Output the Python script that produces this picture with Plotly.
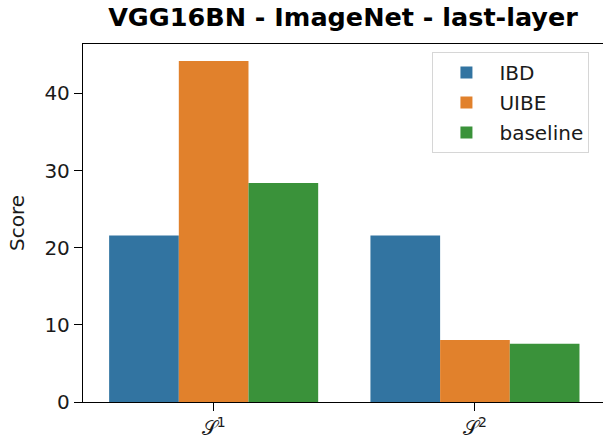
import plotly.graph_objects as go

categories = ["𝒮<sup>1</sup>", "𝒮<sup>2</sup>"]
methods = ["IBD", "UIBE", "baseline"]
ibd = [21.6, 21.6]
uibe = [44.2, 8.05]
baseline = [28.4, 7.55]
colors = ["#3274a1", "#e1812c", "#3a923a"]
yticks = [0, 10, 20, 30, 40]

series = [ibd, uibe, baseline]
xpos = list(range(len(categories)))

fig = go.Figure()
for name, vals, col in zip(methods, series, colors):
    fig.add_trace(go.Bar(x=xpos, y=vals, name=name, legendgroup=name,
                         marker=dict(color=col, line=dict(width=0))))

font = "DejaVu Sans"
ymax = max(max(s) for s in series) * 1.05
fig.update_layout(
    width=603, height=439,
    margin=dict(l=83, r=0, t=44, b=37),
    paper_bgcolor="white", plot_bgcolor="white",
    barmode="group", bargap=0.2, bargroupgap=0,
    font=dict(family=font, size=20, color="#1a1a1a"),
    title=dict(text="<b>VGG16BN - ImageNet - last-layer</b>", x=0.5, xref="paper",
               xanchor="center", y=1 - 17 / 439, yref="container", yanchor="middle",
               font=dict(family=font, size=25.5, color="black")),
    legend=dict(x=0.672, y=0.978, xanchor="left", yanchor="top",
                bordercolor="#d6d6d6", borderwidth=1, bgcolor="white",
                font=dict(family=font, size=20, color="#1a1a1a"),
                itemwidth=56, tracegroupgap=1),
    showlegend=True,
)
fig.update_xaxes(range=[-0.5, 1.49], tickmode="array", tickvals=xpos, ticktext=categories,
                 showline=True, linecolor="black", linewidth=1.3, mirror=True,
                 ticks="outside", ticklen=8, tickwidth=1.3, tickcolor="black",
                 showgrid=False, zeroline=False, tickfont=dict(size=20))
fig.update_yaxes(range=[0, ymax], tickmode="array", tickvals=yticks,
                 showline=True, linecolor="black", linewidth=1.3, mirror=True,
                 ticks="outside", ticklen=8, tickwidth=1.3, tickcolor="black",
                 showgrid=False, zeroline=False,
                 title=dict(text="Score", standoff=14, font=dict(size=20)),
                 tickfont=dict(size=20))

fig.write_html("out.html")
